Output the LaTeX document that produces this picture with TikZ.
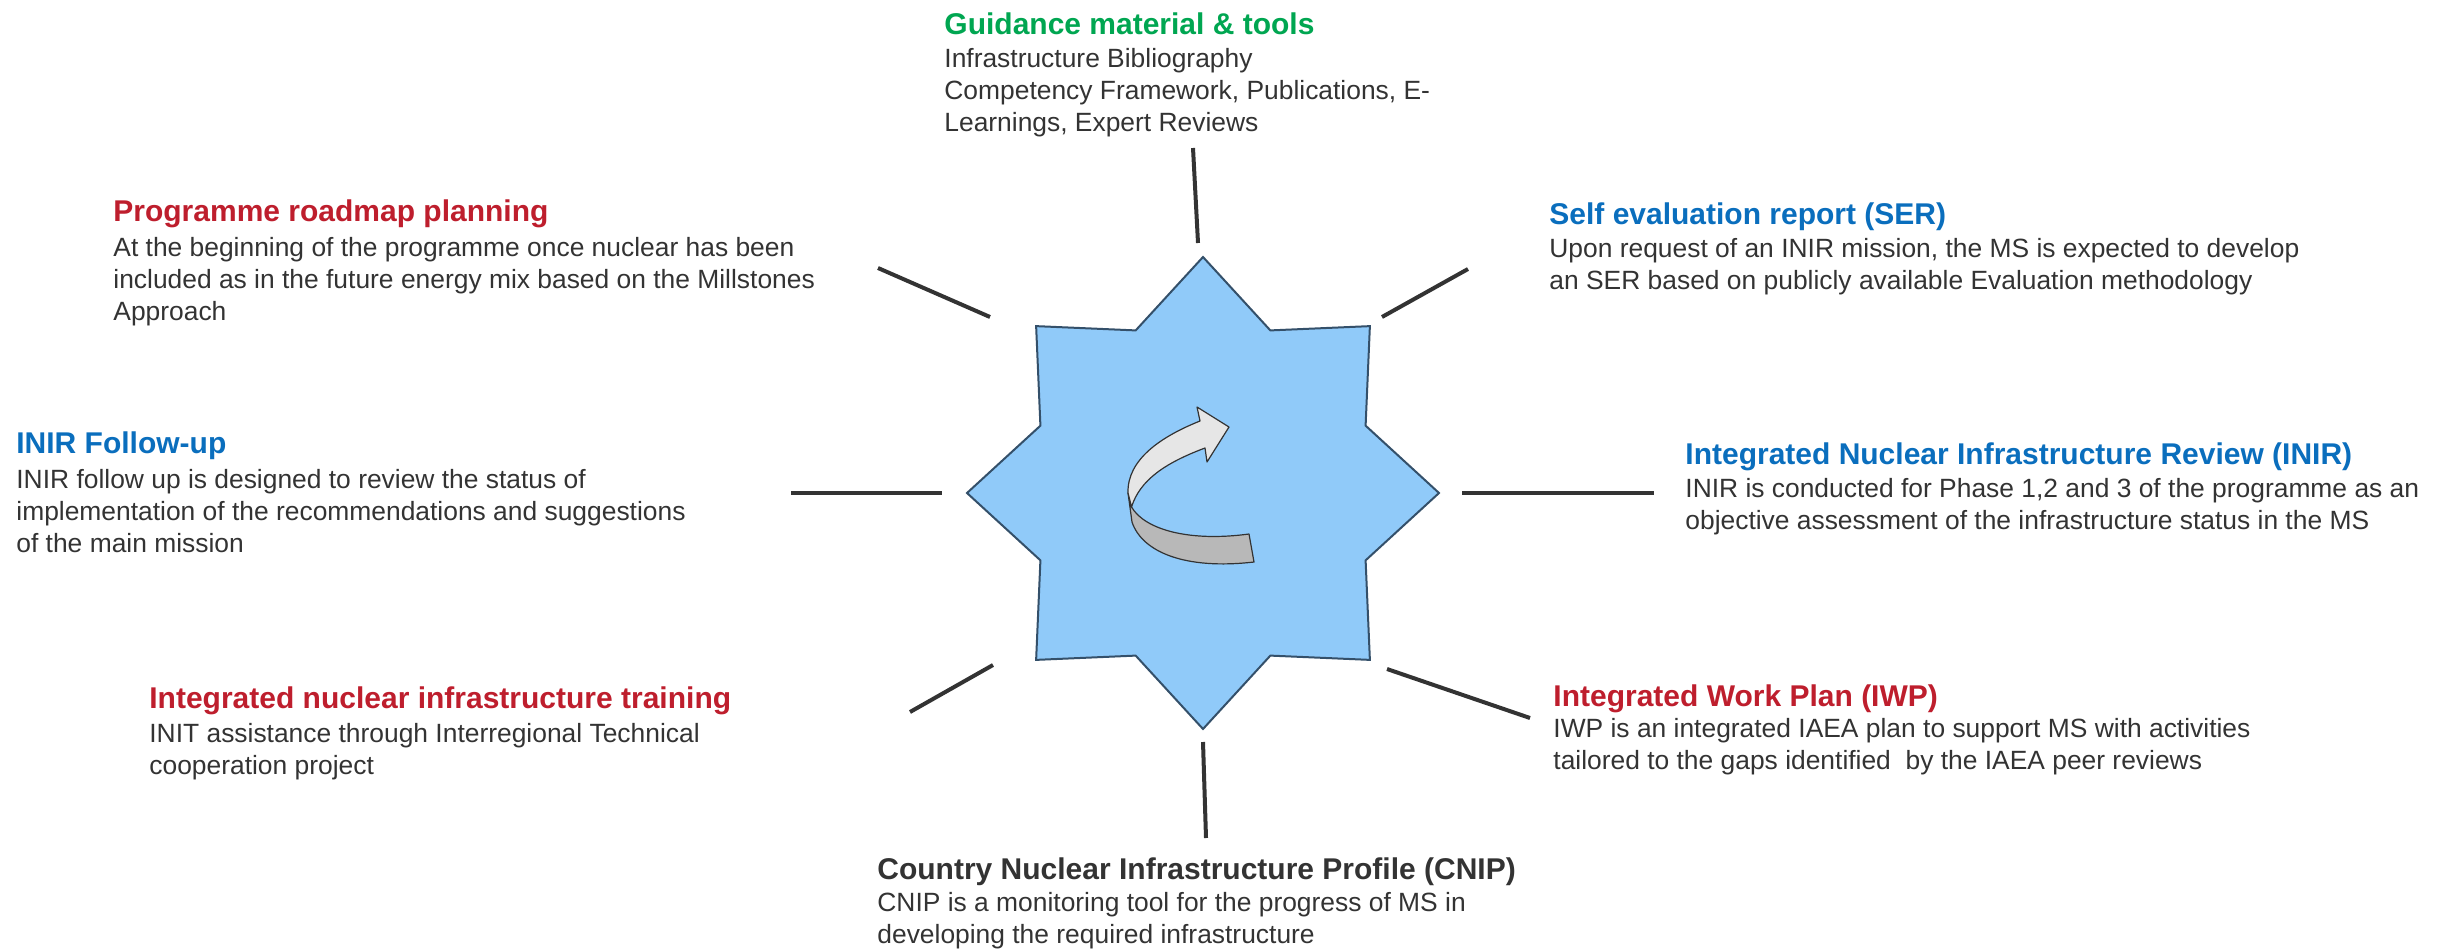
\documentclass[tikz,border=0pt]{standalone}
\usepackage{fontspec}
\setmainfont{Liberation Sans}
\definecolor{gtitle}{HTML}{00A651}
\definecolor{rtitle}{HTML}{BE1E2D}
\definecolor{btitle}{HTML}{0A6EBD}
\definecolor{dtitle}{HTML}{333333}
\definecolor{bodyc}{HTML}{333333}
\definecolor{spokec}{HTML}{333333}
\definecolor{starfill}{HTML}{90CAF9}
\definecolor{starline}{HTML}{34506A}
\definecolor{arrowlight}{HTML}{E6E6E6}
\definecolor{arrowdark}{HTML}{B8B8B8}
\begin{document}
\begin{tikzpicture}[x=0.5pt,y=-0.5pt,
  ttl/.style={anchor=base west, inner sep=0pt, font=\fontsize{15}{18}\selectfont\bfseries},
  body/.style={anchor=base west, inner sep=0pt, align=left, text=bodyc, font=\fontsize{13.2}{16}\selectfont},
  spoke/.style={draw=spokec, line width=2pt},
  starsh/.style={fill=starfill, draw=starline, line width=1pt, line join=miter},
  arrl/.style={fill=arrowlight, draw=spokec, line width=0.6pt, line join=round},
  arrd/.style={fill=arrowdark, draw=spokec, line width=0.6pt, line join=round}]
\useasboundingbox (0,0) rectangle (2446,948);

% star
\begin{scope}[shift={(1203,493)}]
\draw[starsh] (0:236) -- (22.5:176) -- (45:236) -- (67.5:176) -- (90:236) -- (112.5:176) -- (135:236) -- (157.5:176) -- (180:236) -- (202.5:176) -- (225:236) -- (247.5:176) -- (270:236) -- (292.5:176) -- (315:236) -- (337.5:176) -- cycle;
\end{scope}

% arrow
\draw[arrd] (1128,493) -- (1132,522) .. controls (1142,552) and (1185,570) .. (1254,562) -- (1249,534) .. controls (1190,542) and (1145,530) .. (1131.5,507) -- cycle;
\draw[arrl] (1200,421) -- (1197,407) -- (1229,427) -- (1207,462) -- (1205,448) .. controls (1165,463) and (1140,480) .. (1131.5,507) -- (1128,493) .. controls (1127,460) and (1160,437) .. (1200,421) -- cycle;

% spoke coordinates
\coordinate (t1) at (1193,148); \coordinate (t2) at (1198,243);
\coordinate (b1) at (1203,742); \coordinate (b2) at (1206,838);
\coordinate (l1) at (791,493);  \coordinate (l2) at (942,493);
\coordinate (r1) at (1462,493); \coordinate (r2) at (1654,493);
\coordinate (ul1) at (878,268); \coordinate (ul2) at (990,317);
\coordinate (ur1) at (1468,269); \coordinate (ur2) at (1382,317);
\coordinate (ll1) at (910,712); \coordinate (ll2) at (993,665);
\coordinate (lr1) at (1387,669); \coordinate (lr2) at (1530,718);
\draw[spoke] (t1) -- (t2);
\draw[spoke] (b1) -- (b2);
\draw[spoke] (l1) -- (l2);
\draw[spoke] (r1) -- (r2);
\draw[spoke] (ul1) -- (ul2);
\draw[spoke] (ur1) -- (ur2);
\draw[spoke] (ll1) -- (ll2);
\draw[spoke] (lr1) -- (lr2);

% texts (body nodes are placed at the baseline of their last line)
\node[ttl, text=gtitle] (gt) at (944,34) {Guidance material \& tools};
\node[body] (gb) at (944,131) {Infrastructure Bibliography\\Competency Framework, Publications, E-\\Learnings, Expert Reviews};

\node[ttl, text=rtitle] (pt) at (113,221) {Programme roadmap planning};
\node[body] (pb) at (113,320) {At the beginning of the programme once nuclear has been\\included as in the future energy mix based on the Millstones\\Approach};

\node[ttl, text=btitle] (st) at (1549,224) {Self evaluation report (SER)};
\node[body] (sb) at (1549,289) {Upon request of an INIR mission, the MS is expected to develop\\an SER based on publicly available Evaluation methodology};

\node[ttl, text=btitle] (ft) at (16,453) {INIR Follow-up};
\node[body] (fb) at (16,552) {INIR follow up is designed to review the status of\\implementation of the recommendations and suggestions\\of the main mission};

\node[ttl, text=btitle] (it) at (1685,464) {Integrated Nuclear Infrastructure Review (INIR)};
\node[body] (ib) at (1685,529) {INIR is conducted for Phase 1,2 and 3 of the programme as an\\objective assessment of the infrastructure status in the MS};

\node[ttl, text=rtitle] (nt) at (149,708) {Integrated nuclear infrastructure training};
\node[body] (nb) at (149,774) {INIT assistance through Interregional Technical\\cooperation project};

\node[ttl, text=dtitle] (ct) at (877,879) {Country Nuclear Infrastructure Profile (CNIP)};
\node[body] (cb) at (877,943) {CNIP is a monitoring tool for the progress of MS in\\developing the required infrastructure};

\node[ttl, text=rtitle] (wt) at (1553,706) {Integrated Work Plan (IWP)};
\node[body] (wb) at (1553,769) {IWP is an integrated IAEA plan to support MS with activities\\tailored to the gaps identified\ \ by the IAEA peer reviews};
\end{tikzpicture}
\end{document}
